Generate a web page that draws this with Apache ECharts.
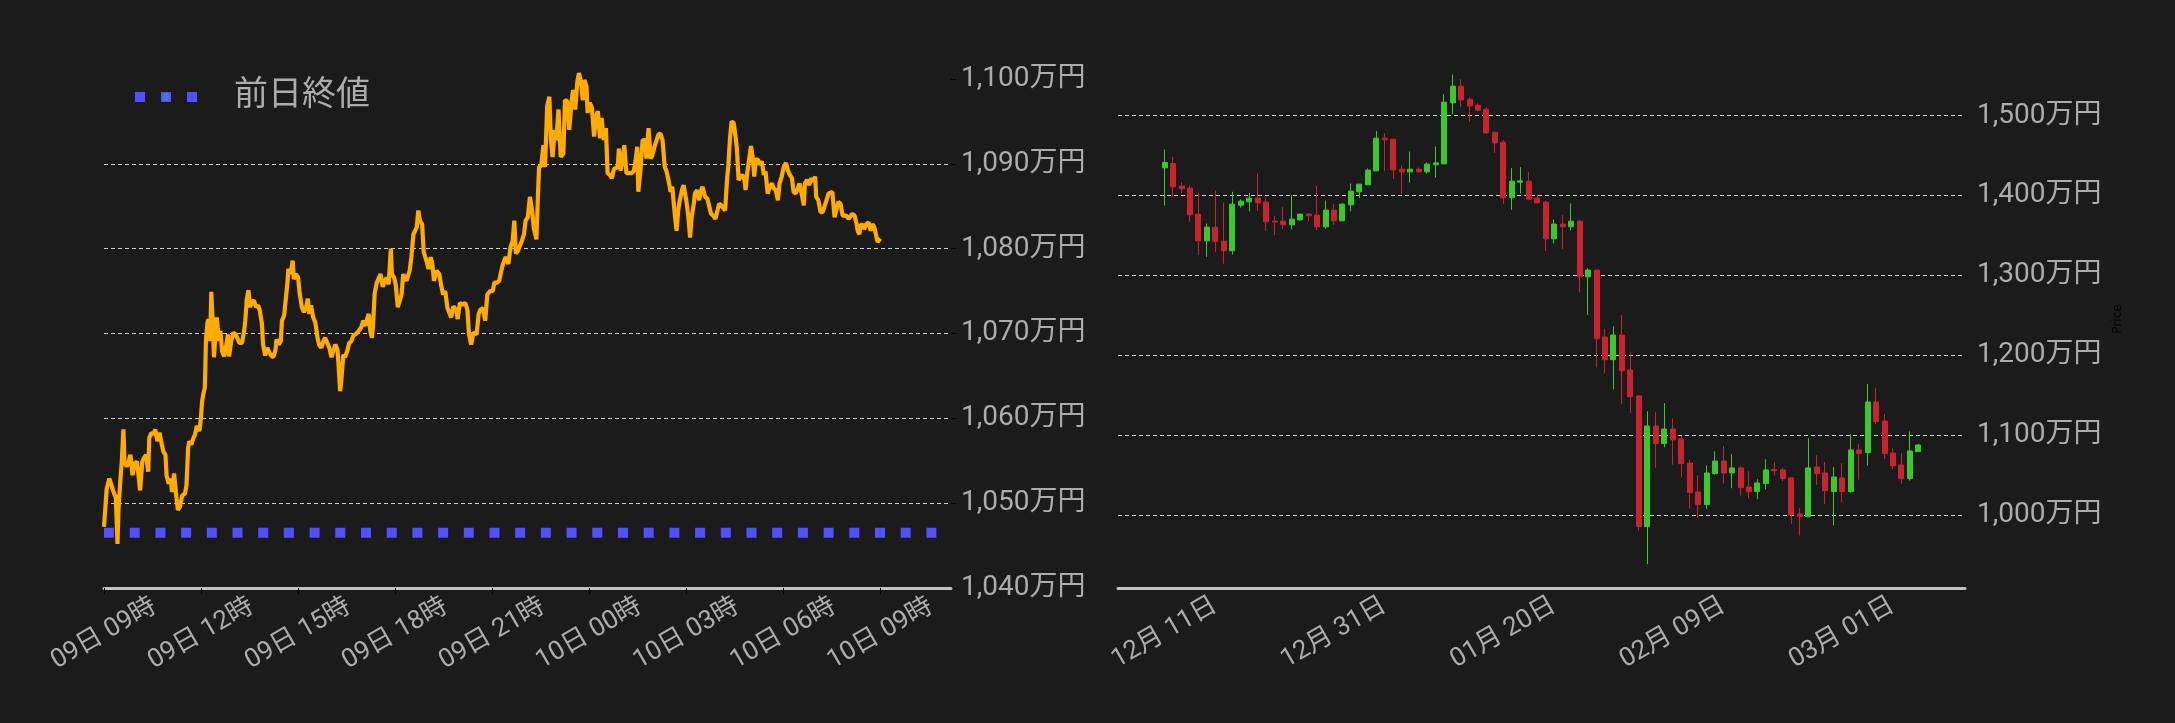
<!DOCTYPE html>
<html>
<head>
<meta charset="utf-8">
<script src="https://cdn.jsdelivr.net/npm/echarts@6/dist/echarts.min.js"></script>
<style>
html, body { margin: 0; padding: 0; background: #1b1b1b; }
#chart { width: 2175px; height: 723px; }
</style>
</head>
<body>
<div id="chart"></div>
<script>
// 左：当日の推移（分＝09日09時からの経過分、値＝万円）
var lineTimes = [
    0, 5, 10, 14, 19, 22, 25, 27, 31, 33,
    36, 38, 42, 46, 49, 53, 57, 61, 64, 67,
    71, 74, 78, 82, 84, 88, 92, 95, 99, 103,
    106, 110, 114, 116, 120, 124, 126, 130, 134, 137,
    141, 145, 150, 153, 156, 158, 162, 166, 169, 172,
    177, 179, 182, 184, 187, 188, 189, 192, 194, 197,
    199, 202, 204, 206, 209, 211, 214, 216, 219, 223,
    226, 230, 232, 236, 240, 244, 247, 251, 256, 260,
    262, 265, 268, 271, 274, 278, 282, 286, 289, 293,
    295, 299, 303, 307, 310, 314, 318, 320, 324, 328,
    330, 334, 337, 340, 342, 346, 350, 352, 356, 360,
    363, 367, 371, 375, 378, 381, 384, 388, 392, 396,
    399, 403, 407, 410, 414, 418, 422, 425, 429, 433,
    435, 438, 440, 444, 447, 451, 455, 459, 462, 466,
    470, 473, 477, 481, 485, 488, 491, 494, 497, 499,
    502, 506, 509, 513, 517, 520, 524, 528, 532, 534,
    538, 541, 545, 552, 555, 561, 567, 570, 574, 580,
    583, 586, 590, 593, 598, 602, 606, 609, 612, 617,
    622, 625, 629, 633, 637, 640, 644, 648, 653, 656,
    660, 665, 670, 674, 677, 681, 685, 691, 695, 698,
    703, 707, 711, 716, 721, 724, 729, 733, 737, 740,
    745, 750, 754, 758, 761, 764, 768, 771, 775, 779,
    782, 786, 790, 794, 797, 802, 805, 807, 811, 815,
    818, 822, 826, 829, 832, 836, 839, 843, 847, 852,
    855, 859, 863, 867, 870, 874, 878, 881, 885, 888,
    891, 895, 897, 901, 905, 909, 912, 916, 920, 923,
    927, 931, 934, 938, 942, 946, 949, 953, 955, 958,
    962, 965, 969, 974, 979, 983, 986, 989, 991, 995,
    999, 1004, 1006, 1010, 1014, 1017, 1021, 1025, 1028, 1032,
    1036, 1040, 1043, 1047, 1051, 1054, 1058, 1062, 1065, 1068,
    1072, 1075, 1078, 1080, 1084, 1087, 1090, 1094, 1096, 1100,
    1104, 1106, 1110, 1113, 1115, 1119, 1122, 1126, 1130, 1134,
    1137, 1141, 1145, 1148, 1152, 1156, 1158, 1161, 1164, 1168,
    1172, 1174, 1177, 1180, 1184, 1188, 1190, 1193, 1197, 1200,
    1203, 1206, 1209, 1213, 1216, 1220, 1224, 1227, 1231, 1235,
    1239, 1242, 1246, 1250, 1253, 1257, 1261, 1265, 1268, 1272,
    1276, 1279, 1283, 1287, 1290, 1294, 1298, 1300, 1304, 1308,
    1312, 1315, 1319, 1321, 1325, 1329, 1333, 1336, 1340, 1344,
    1347, 1351, 1355, 1358, 1362, 1366, 1370, 1373, 1377, 1381,
    1384, 1388, 1392, 1396, 1398, 1401, 1403, 1407, 1410, 1414,
    1418, 1422, 1425, 1429, 1433, 1435, 1438, 1440
];
var lineValues = [
    1047.2, 1051.7, 1052.9, 1052.1, 1051.1, 1050.7, 1045.2, 1049.4, 1053.3, 1054.9,
    1058.7, 1054.9, 1054.3, 1054.9, 1055.7, 1053.3, 1054.7, 1054.9, 1053.3, 1051.5,
    1054.9, 1055.3, 1055.7, 1053.7, 1057.7, 1058.3, 1058.1, 1058.7, 1057.3, 1058.3,
    1057.3, 1056.1, 1055.7, 1053.3, 1052.3, 1052.9, 1051.3, 1053.5, 1050.9, 1049.2,
    1049.6, 1050.9, 1051.1, 1052.1, 1056.5, 1057.3, 1056.9, 1057.7, 1058.1, 1059.1,
    1058.5, 1059.5, 1062.0, 1062.8, 1063.6, 1066.0, 1069.1, 1071.3, 1071.7, 1069.1,
    1074.9, 1070.7, 1067.2, 1069.1, 1071.9, 1070.7, 1069.1, 1070.3, 1067.9, 1067.3,
    1068.3, 1069.9, 1067.3, 1069.1, 1070.1, 1069.9, 1069.5, 1068.9, 1068.9, 1070.3,
    1071.5, 1074.1, 1075.1, 1073.1, 1073.7, 1073.9, 1073.1, 1073.3, 1072.7, 1071.1,
    1068.7, 1067.4, 1068.3, 1067.7, 1067.4, 1067.2, 1068.0, 1069.3, 1068.7, 1069.1,
    1071.5, 1072.1, 1072.3, 1075.8, 1077.6, 1077.0, 1078.6, 1076.4, 1077.0, 1076.6,
    1074.7, 1073.1, 1072.5, 1073.1, 1074.1, 1072.3, 1073.3, 1071.9, 1071.3, 1069.5,
    1068.7, 1068.3, 1069.1, 1069.5, 1068.9, 1068.3, 1067.2, 1067.9, 1068.7, 1068.1,
    1066.4, 1063.2, 1064.4, 1067.5, 1067.2, 1067.9, 1068.9, 1069.1, 1069.7, 1069.9,
    1070.1, 1069.9, 1070.7, 1071.5, 1070.9, 1071.7, 1072.3, 1070.3, 1069.5, 1070.9,
    1074.7, 1076.0, 1076.0, 1077.0, 1075.5, 1075.5, 1076.6, 1075.8, 1080.0, 1077.0,
    1076.6, 1075.8, 1073.1, 1074.6, 1077.0, 1076.2, 1077.4, 1079.0, 1081.7, 1082.5,
    1084.5, 1083.3, 1082.9, 1079.6, 1078.6, 1077.6, 1079.0, 1078.2, 1076.2, 1077.4,
    1077.0, 1075.8, 1074.6, 1075.0, 1073.0, 1072.8, 1071.9, 1073.2, 1072.8, 1071.7,
    1073.6, 1073.4, 1073.6, 1072.8, 1069.9, 1068.7, 1070.1, 1069.9, 1072.3, 1072.8,
    1073.0, 1071.5, 1074.6, 1075.0, 1075.0, 1076.0, 1076.0, 1076.2, 1077.4, 1078.2,
    1079.0, 1078.2, 1080.2, 1080.9, 1083.3, 1079.4, 1079.8, 1079.6, 1080.9, 1081.7,
    1083.3, 1083.7, 1086.1, 1084.5, 1082.5, 1081.1, 1086.5, 1089.6, 1089.8, 1092.2,
    1089.6, 1096.8, 1097.9, 1092.8, 1090.8, 1094.0, 1092.8, 1096.4, 1090.8, 1091.2,
    1097.5, 1097.4, 1094.0, 1097.2, 1098.7, 1096.4, 1099.7, 1100.7, 1099.5, 1097.5,
    1099.9, 1099.1, 1096.0, 1097.2, 1096.6, 1093.2, 1095.4, 1096.2, 1093.0, 1095.4,
    1092.8, 1094.2, 1088.9, 1088.7, 1088.3, 1089.4, 1089.2, 1089.6, 1091.8, 1089.2,
    1090.4, 1092.2, 1088.9, 1088.9, 1088.9, 1089.2, 1090.4, 1092.0, 1086.7, 1089.2,
    1092.8, 1092.8, 1090.6, 1094.2, 1090.6, 1091.0, 1092.0, 1092.8, 1093.4, 1093.6,
    1092.8, 1089.6, 1089.2, 1088.1, 1086.7, 1087.3, 1084.5, 1082.1, 1084.5, 1085.7,
    1086.9, 1087.5, 1087.3, 1085.7, 1083.7, 1081.3, 1083.7, 1085.3, 1086.5, 1086.9,
    1085.7, 1086.5, 1087.3, 1087.5, 1086.1, 1085.9, 1085.7, 1084.1, 1083.9, 1083.5,
    1083.5, 1085.3, 1085.1, 1085.3, 1084.5, 1088.5, 1089.7, 1092.9, 1095.0, 1094.8,
    1092.9, 1091.7, 1088.1, 1088.1, 1088.7, 1088.1, 1086.9, 1088.9, 1090.7, 1092.1,
    1090.9, 1088.5, 1090.5, 1090.5, 1089.9, 1090.3, 1088.7, 1089.1, 1086.5, 1087.3,
    1087.7, 1087.1, 1086.9, 1085.7, 1087.7, 1088.5, 1089.7, 1090.1, 1089.3, 1088.7,
    1088.3, 1086.7, 1086.5, 1087.1, 1087.7, 1086.5, 1085.1, 1087.7, 1088.1, 1087.5,
    1088.3, 1087.9, 1088.5, 1086.1, 1085.7, 1084.3, 1084.3, 1084.5, 1085.7, 1086.5,
    1086.7, 1086.7, 1083.7, 1083.9, 1085.5, 1085.3, 1083.9, 1084.1, 1083.9, 1083.5,
    1083.7, 1084.1, 1083.9, 1082.9, 1082.1, 1081.7, 1082.7, 1082.9, 1082.3, 1082.9,
    1083.1, 1082.1, 1082.9, 1082.5, 1081.3, 1080.8, 1080.6, 1081.2
];
var prevClose = 1046.5;
var leftTickMinutes = [0, 180, 360, 540, 720, 900, 1080, 1260, 1440];
var leftTickLabels = ['09日 09時', '09日 12時', '09日 15時', '09日 18時', '09日 21時',
    '10日 00時', '10日 03時', '10日 06時', '10日 09時'];
var leftPriceTicks = [1040, 1050, 1060, 1070, 1080, 1090, 1100];

// 右：日足（前後5日は空き）
var candleDates = [
    '12月 06日', '12月 07日', '12月 08日', '12月 09日', '12月 10日',
    '12月 11日', '12月 12日', '12月 13日', '12月 14日', '12月 15日', '12月 16日', '12月 17日', '12月 18日', '12月 19日', '12月 20日',
    '12月 21日', '12月 22日', '12月 23日', '12月 24日', '12月 25日', '12月 26日', '12月 27日', '12月 28日', '12月 29日', '12月 30日',
    '12月 31日', '01月 01日', '01月 02日', '01月 03日', '01月 04日', '01月 05日', '01月 06日', '01月 07日', '01月 08日', '01月 09日',
    '01月 10日', '01月 11日', '01月 12日', '01月 13日', '01月 14日', '01月 15日', '01月 16日', '01月 17日', '01月 18日', '01月 19日',
    '01月 20日', '01月 21日', '01月 22日', '01月 23日', '01月 24日', '01月 25日', '01月 26日', '01月 27日', '01月 28日', '01月 29日',
    '01月 30日', '01月 31日', '02月 01日', '02月 02日', '02月 03日', '02月 04日', '02月 05日', '02月 06日', '02月 07日', '02月 08日',
    '02月 09日', '02月 10日', '02月 11日', '02月 12日', '02月 13日', '02月 14日', '02月 15日', '02月 16日', '02月 17日', '02月 18日',
    '02月 19日', '02月 20日', '02月 21日', '02月 22日', '02月 23日', '02月 24日', '02月 25日', '02月 26日', '02月 27日', '02月 28日',
    '03月 01日', '03月 02日', '03月 03日', '03月 04日', '03月 05日', '03月 06日', '03月 07日', '03月 08日', '03月 09日', '03月 10日',
    '03月 11日', '03月 12日', '03月 13日', '03月 14日', '03月 15日'
];
var firstCandleIndex = 5;
var candleOpen = [
    1434.6, 1440.0, 1411.7, 1409.2, 1376.7, 1343.3, 1360.4, 1342.9, 1330.8, 1387.9,
    1392.1, 1396.7, 1391.7, 1367.9, 1367.9, 1363.3, 1369.6, 1376.7, 1375.4, 1360.8,
    1381.7, 1368.3, 1388.3, 1404.6, 1413.3, 1430.8, 1471.7, 1470.4, 1432.9, 1429.6,
    1432.9, 1429.6, 1438.3, 1439.6, 1515.8, 1536.7, 1520.4, 1512.9, 1507.9, 1479.2,
    1466.7, 1397.1, 1416.7, 1417.9, 1396.7, 1391.7, 1345.8, 1364.2, 1360.8, 1367.9,
    1298.3, 1306.7, 1222.9, 1194.6, 1225.4, 1181.7, 1149.2, 985.8, 1111.7, 1089.6,
    1107.9, 1095.4, 1065.4, 1029.2, 1013.3, 1052.1, 1067.9, 1052.9, 1059.2, 1035.4,
    1029.6, 1039.6, 1057.1, 1056.7, 1046.7, 1001.7, 998.3, 1060.4, 1052.9, 1029.6,
    1046.7, 1029.6, 1081.7, 1078.3, 1141.7, 1117.9, 1077.9, 1062.9, 1045.8, 1079.6
];
var candleClose = [
    1441.3, 1410.8, 1408.3, 1375.8, 1343.3, 1360.4, 1342.1, 1330.8, 1389.2, 1392.9,
    1396.7, 1390.8, 1367.1, 1366.7, 1363.3, 1370.4, 1376.7, 1374.6, 1360.8, 1381.7,
    1368.3, 1389.2, 1405.4, 1414.2, 1431.7, 1471.7, 1469.6, 1432.1, 1429.6, 1432.9,
    1429.6, 1439.2, 1440.8, 1516.7, 1536.7, 1519.6, 1512.1, 1506.7, 1478.3, 1465.8,
    1397.1, 1417.9, 1418.3, 1395.4, 1390.8, 1345.8, 1364.2, 1360.8, 1367.9, 1298.3,
    1306.7, 1220.8, 1194.6, 1225.4, 1180.8, 1148.3, 985.8, 1111.7, 1089.6, 1107.9,
    1094.2, 1064.6, 1028.3, 1013.3, 1052.9, 1067.9, 1052.9, 1059.2, 1034.6, 1029.6,
    1040.4, 1056.7, 1055.8, 1045.8, 1000.8, 998.3, 1059.2, 1052.1, 1030.8, 1047.9,
    1029.6, 1081.7, 1077.1, 1141.7, 1117.1, 1077.1, 1061.7, 1045.8, 1080.4, 1087.9
];
var candleLow = [
    1387.5, 1398.3, 1402.5, 1367.1, 1325.4, 1323.3, 1329.2, 1314.6, 1326.3, 1384.6,
    1380.0, 1380.8, 1355.8, 1350.4, 1357.9, 1357.5, 1368.3, 1367.9, 1356.7, 1358.3,
    1363.3, 1367.9, 1380.0, 1396.7, 1412.9, 1430.8, 1430.8, 1420.8, 1402.1, 1416.3,
    1429.6, 1427.1, 1422.5, 1439.6, 1501.7, 1510.8, 1492.1, 1505.8, 1477.1, 1453.3,
    1389.6, 1382.1, 1402.5, 1393.8, 1390.8, 1330.8, 1340.0, 1333.3, 1356.3, 1278.8,
    1250.4, 1185.0, 1177.5, 1157.5, 1138.8, 1127.5, 980.8, 938.8, 1059.6, 1085.0,
    1063.3, 1047.1, 1008.3, 996.3, 1007.5, 1050.8, 1039.6, 1033.8, 1024.6, 1020.8,
    1020.0, 1032.5, 1049.6, 1042.5, 989.2, 974.6, 997.5, 1037.9, 1014.2, 987.1,
    1015.8, 1028.3, 1044.6, 1062.1, 1114.2, 1070.4, 1057.9, 1039.6, 1043.3, 1079.6
];
var candleHigh = [
    1457.5, 1448.3, 1416.3, 1412.5, 1403.8, 1365.0, 1406.3, 1391.3, 1404.6, 1395.0,
    1403.3, 1427.5, 1396.3, 1374.2, 1385.4, 1400.8, 1376.7, 1377.9, 1412.5, 1393.8,
    1389.2, 1390.0, 1415.0, 1414.2, 1433.8, 1480.8, 1477.9, 1470.4, 1437.5, 1455.0,
    1435.0, 1441.3, 1461.3, 1526.7, 1551.3, 1545.4, 1522.9, 1515.4, 1510.4, 1479.2,
    1469.2, 1434.2, 1435.4, 1429.2, 1401.3, 1393.3, 1370.0, 1375.4, 1390.0, 1369.6,
    1308.8, 1306.7, 1232.9, 1236.3, 1250.4, 1203.8, 1150.4, 1130.0, 1129.2, 1140.4,
    1121.3, 1099.2, 1069.2, 1050.0, 1062.5, 1080.0, 1086.3, 1076.3, 1061.3, 1055.4,
    1045.0, 1070.0, 1066.3, 1059.2, 1046.7, 1008.8, 1096.3, 1075.0, 1066.7, 1060.4,
    1065.0, 1101.3, 1089.2, 1164.2, 1159.2, 1126.3, 1083.8, 1077.9, 1105.0, 1089.2
];
var rightPriceTicks = [1000, 1100, 1200, 1300, 1400, 1500];

var FONT = 'Roboto, "Noto Sans CJK JP", sans-serif';
var labelColor = '#acacac';
var gridColor = '#cdcdcd';
var axisColor = '#c2c2c2';

function manYen(v) {
    return v.toLocaleString('en-US') + '万円';
}
function dateLabelShown(index) {
    return index >= firstCandleIndex && (index - firstCandleIndex) % 20 === 0;
}

var lineData = [];
for (var i = 0; i < lineTimes.length; i++) {
    lineData.push([lineTimes[i], lineValues[i]]);
}
var candleData = [];
for (var j = 0; j < candleOpen.length; j++) {
    candleData.push([firstCandleIndex + j, candleOpen[j], candleClose[j], candleLow[j], candleHigh[j]]);
}

var mychart = echarts.init(document.getElementById('chart'));
var option = {
    backgroundColor: '#1b1b1b',
    animation: false,
    textStyle: {fontFamily: FONT},
    legend: {
        data: ['前日終値'],
        left: 130,
        top: 80,
        padding: 0,
        itemWidth: 62,
        itemHeight: 10,
        lineStyle: {color: '#5050ff', width: 10, type: [10, 16], cap: 'butt'},
        textStyle: {color: labelColor, fontSize: 34, fontFamily: FONT, padding: [0, 0, 0, 32]}
    },
    grid: [
        {left: 104, right: 1224, top: 62, bottom: 135},
        {left: 1118, right: 210, top: 50, bottom: 135}
    ],
    xAxis: [
        {
            type: 'value',
            gridIndex: 0,
            position: 'bottom',
            min: 0,
            max: 1571,
            axisLine: {show: true, onZero: false, lineStyle: {color: axisColor, width: 3}},
            axisTick: {customValues: leftTickMinutes, length: 6, lineStyle: {color: '#000'}},
            axisLabel: {
                customValues: leftTickMinutes,
                rotate: 30,
                align: 'center',
                verticalAlign: 'middle',
                margin: 46,
                color: labelColor,
                fontSize: 26,
                fontFamily: FONT,
                formatter: function (v) {
                    return leftTickLabels[leftTickMinutes.indexOf(v)];
                }
            },
            splitLine: {show: false},
            z: 5
        },
        {
            type: 'category',
            gridIndex: 1,
            position: 'bottom',
            data: candleDates,
            boundaryGap: true,
            axisLine: {onZero: false, lineStyle: {color: axisColor, width: 3}},
            axisTick: {alignWithLabel: true, interval: dateLabelShown, length: 6, lineStyle: {color: '#000'}},
            axisLabel: {
                interval: dateLabelShown,
                rotate: 30,
                align: 'center',
                verticalAlign: 'middle',
                margin: 45,
                color: labelColor,
                fontSize: 26,
                fontFamily: FONT
            },
            splitLine: {show: false}
        }
    ],
    yAxis: [
        {
            type: 'value',
            gridIndex: 0,
            position: 'right',
            min: 1040,
            max: 1102,
            axisLine: {show: false, onZero: false},
            axisTick: {show: true, customValues: leftPriceTicks, length: 5, lineStyle: {color: '#000'}},
            axisLabel: {customValues: leftPriceTicks, margin: 10, padding: [7, 0, 0, 0], color: labelColor, fontSize: 28, fontFamily: FONT, formatter: manYen},
            splitLine: {showMinLine: true, showMaxLine: false, lineStyle: {color: gridColor, width: 1, type: [4, 3]}}
        },
        {
            type: 'value',
            gridIndex: 1,
            position: 'right',
            min: 909,
            max: 1582,
            name: 'Price',
            nameLocation: 'middle',
            nameGap: 147,
            nameRotate: 90,
            nameTextStyle: {color: '#050505', fontSize: 12, fontFamily: 'DejaVu Sans'},
            axisLine: {show: false, onZero: false},
            axisTick: {show: false},
            axisLabel: {customValues: rightPriceTicks, margin: 12, padding: [7, 0, 0, 0], color: labelColor, fontSize: 28, fontFamily: FONT, formatter: manYen},
            splitLine: {showMinLine: false, showMaxLine: false, lineStyle: {color: gridColor, width: 1.2, type: [4, 3]}}
        }
    ],
    series: [
        {
            name: '前日終値',
            type: 'line',
            xAxisIndex: 0,
            yAxisIndex: 0,
            data: [[0, prevClose], [1571, prevClose]],
            symbol: 'none',
            silent: true,
            lineStyle: {color: '#5050ff', width: 10, type: [10, 15.7]},
            z: 2
        },
        {
            name: '価格',
            type: 'line',
            xAxisIndex: 0,
            yAxisIndex: 0,
            data: lineData,
            symbol: 'none',
            clip: false,
            lineStyle: {color: '#ffab00', width: 4.2},
            z: 3
        },
        {
            type: 'candlestick',
            xAxisIndex: 1,
            yAxisIndex: 1,
            data: candleData,
            encode: {x: 0, y: [1, 2, 3, 4]},
            barWidth: 5.5,
            itemStyle: {
                color: '#3cc82d',
                color0: '#c8232f',
                borderColor: '#3cc82d',
                borderColor0: '#c8232f',
                borderWidth: 1
            }
        }
    ]
};
mychart.setOption(option);
</script>
</body>
</html>
